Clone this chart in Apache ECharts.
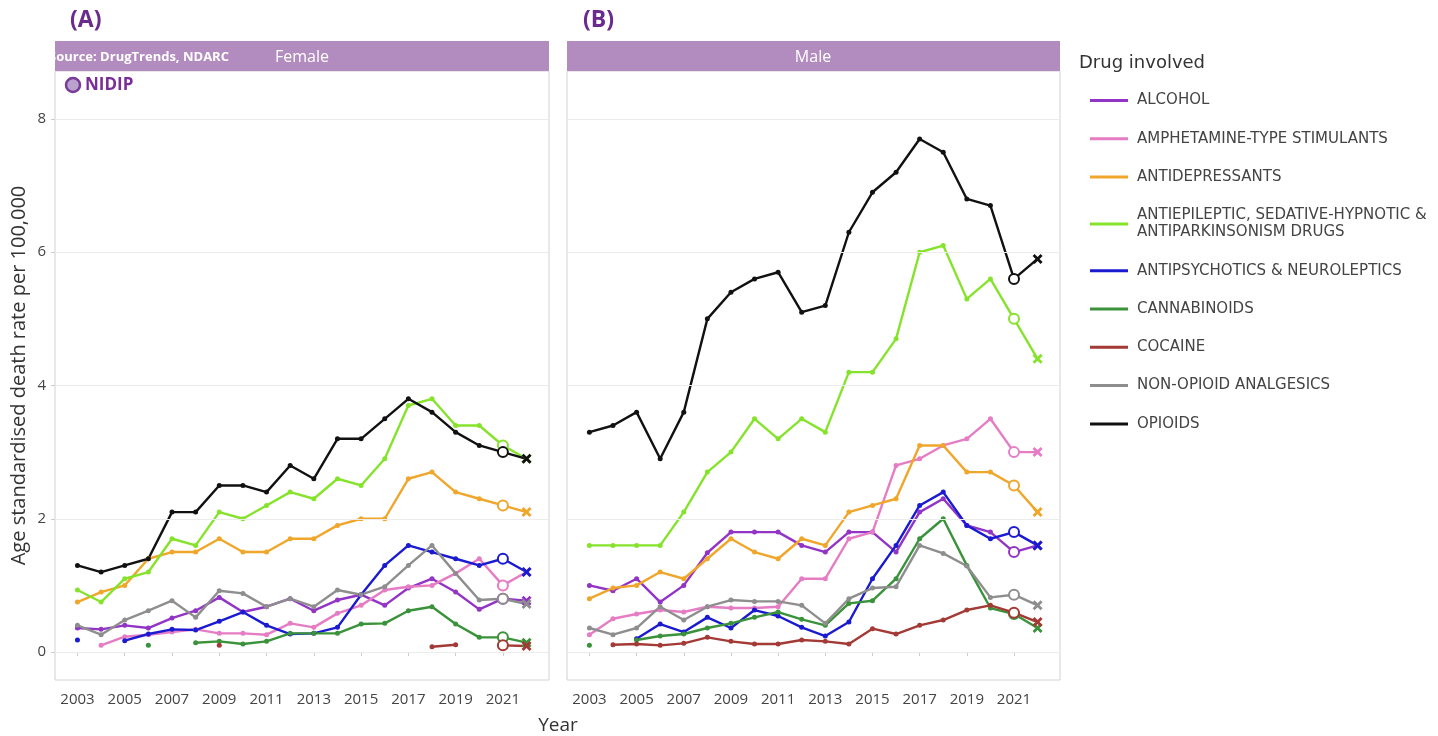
<!DOCTYPE html>
<html>
<head>
<meta charset="utf-8">
<title>Drug-induced deaths by drug involved</title>
<script src="https://cdn.jsdelivr.net/npm/echarts@6/dist/echarts.min.js"></script>
<style>
  html, body { margin: 0; padding: 0; background: #fff; }
  #chart { width: 1438px; height: 736px; }
</style>
</head>
<body>
<div id="chart"></div>
<script>
// years on the x axis
const years = [2003, 2004, 2005, 2006, 2007, 2008, 2009, 2010, 2011, 2012,
               2013, 2014, 2015, 2016, 2017, 2018, 2019, 2020, 2021, 2022];
const yearTicks = [2003, 2005, 2007, 2009, 2011, 2013, 2015, 2017, 2019, 2021];
const rateTicks = [0, 2, 4, 6, 8];

const drugNames = [
  'ALCOHOL',
  'AMPHETAMINE-TYPE STIMULANTS',
  'ANTIDEPRESSANTS',
  'ANTIEPILEPTIC, SEDATIVE-HYPNOTIC & ANTIPARKINSONISM DRUGS',
  'ANTIPSYCHOTICS & NEUROLEPTICS',
  'CANNABINOIDS',
  'COCAINE',
  'NON-OPIOID ANALGESICS',
  'OPIOIDS'
];
const drugColors = ['#9234c6', '#e57cc4', '#efa62a', '#86e32c', '#1a1ad0',
                    '#3a923a', '#a33a35', '#8e8e8e', '#111111'];

// Female (A)
const alcoholF  = [0.36, 0.34, 0.40, 0.36, 0.51, 0.62, 0.82, 0.60, 0.68, 0.80, 0.62, 0.78, 0.86, 0.70, 0.96, 1.10, 0.90, 0.64, 0.80, 0.77];
const amphF     = [null, 0.10, 0.23, 0.26, 0.30, 0.34, 0.28, 0.28, 0.26, 0.43, 0.37, 0.58, 0.70, 0.93, 0.98, 1.00, 1.18, 1.40, 1.00, 1.20];
const antidepF  = [0.75, 0.90, 1.00, 1.40, 1.50, 1.50, 1.70, 1.50, 1.50, 1.70, 1.70, 1.90, 2.00, 2.00, 2.60, 2.70, 2.40, 2.30, 2.20, 2.10];
const antiepF   = [0.93, 0.75, 1.10, 1.20, 1.70, 1.60, 2.10, 2.00, 2.20, 2.40, 2.30, 2.60, 2.50, 2.90, 3.70, 3.80, 3.40, 3.40, 3.10, 2.90];
const antipsyF  = [0.18, null, 0.17, 0.27, 0.34, 0.33, 0.46, 0.60, 0.40, 0.27, 0.28, 0.37, 0.86, 1.30, 1.60, 1.50, 1.40, 1.30, 1.40, 1.20];
const cannabF   = [null, null, null, 0.10, null, 0.14, 0.16, 0.12, 0.16, 0.28, 0.28, 0.28, 0.42, 0.43, 0.62, 0.68, 0.42, 0.22, 0.22, 0.14];
const cocaineF  = [null, null, null, null, null, null, 0.10, null, null, null, null, null, null, null, null, 0.08, 0.11, null, 0.10, 0.09];
const nonopF    = [0.40, 0.26, 0.48, 0.62, 0.77, 0.52, 0.92, 0.88, 0.68, 0.80, 0.68, 0.93, 0.86, 0.98, 1.30, 1.60, 1.18, 0.78, 0.80, 0.72];
const opioidsF  = [1.30, 1.20, 1.30, 1.40, 2.10, 2.10, 2.50, 2.50, 2.40, 2.80, 2.60, 3.20, 3.20, 3.50, 3.80, 3.60, 3.30, 3.10, 3.00, 2.90];

// Male (B)
const alcoholM  = [1.00, 0.92, 1.10, 0.75, 1.00, 1.49, 1.80, 1.80, 1.80, 1.60, 1.50, 1.80, 1.80, 1.50, 2.10, 2.30, 1.90, 1.80, 1.50, 1.60];
const amphM     = [0.26, 0.50, 0.57, 0.63, 0.60, 0.68, 0.66, 0.66, 0.68, 1.10, 1.10, 1.70, 1.80, 2.80, 2.90, 3.10, 3.20, 3.50, 3.00, 3.00];
const antidepM  = [0.80, 0.96, 1.00, 1.20, 1.10, 1.40, 1.70, 1.50, 1.40, 1.70, 1.60, 2.10, 2.20, 2.30, 3.10, 3.10, 2.70, 2.70, 2.50, 2.10];
const antiepM   = [1.60, 1.60, 1.60, 1.60, 2.10, 2.70, 3.00, 3.50, 3.20, 3.50, 3.30, 4.20, 4.20, 4.70, 6.00, 6.10, 5.30, 5.60, 5.00, 4.40];
const antipsyM  = [null, null, 0.20, 0.42, 0.30, 0.52, 0.36, 0.63, 0.54, 0.37, 0.24, 0.45, 1.10, 1.60, 2.20, 2.40, 1.90, 1.70, 1.80, 1.60];
const cannabM   = [0.10, null, 0.18, 0.24, 0.27, 0.36, 0.43, 0.52, 0.60, 0.49, 0.40, 0.73, 0.77, 1.10, 1.70, 2.00, 1.30, 0.66, 0.57, 0.36];
const cocaineM  = [null, 0.11, 0.12, 0.10, 0.13, 0.22, 0.16, 0.12, 0.12, 0.18, 0.16, 0.12, 0.35, 0.27, 0.40, 0.48, 0.63, 0.70, 0.59, 0.45];
const nonopM    = [0.36, 0.26, 0.36, 0.68, 0.48, 0.68, 0.78, 0.76, 0.76, 0.70, 0.43, 0.80, 0.96, 0.98, 1.60, 1.48, 1.29, 0.82, 0.86, 0.70];
const opioidsM  = [3.30, 3.40, 3.60, 2.90, 3.60, 5.00, 5.40, 5.60, 5.70, 5.10, 5.20, 6.30, 6.90, 7.20, 7.70, 7.50, 6.80, 6.70, 5.60, 5.90];

const femaleData = [alcoholF, amphF, antidepF, antiepF, antipsyF, cannabF, cocaineF, nonopF, opioidsF];
const maleData   = [alcoholM, amphM, antidepM, antiepM, antipsyM, cannabM, cocaineM, nonopM, opioidsM];

const FONT = '"Open Sans", "DejaVu Sans", sans-serif';
const WIDE = '"DejaVu Sans", sans-serif';
const CROSS = 'path://M2,0 L5,3 L8,0 L10,2 L7,5 L10,8 L8,10 L5,7 L2,10 L0,8 L3,5 L0,2 Z';

// 2021 gets an open circle, 2022 a cross
function toPoints(vals) {
  return years.map((yr, i) => {
    const v = vals[i];
    if (v == null) return [yr, null];
    if (yr === 2021) return { value: [yr, v], symbol: 'emptyCircle', symbolSize: 10, itemStyle: { borderWidth: 2 } };
    if (yr === 2022) return { value: [yr, v], symbol: CROSS, symbolSize: 10 };
    return [yr, v];
  });
}

const chart = echarts.init(document.getElementById('chart'));

const series = [];
// horizontal grid lines on both panels
[0, 1].forEach(idx => {
  series.push({
    type: 'line',
    name: '_grid' + idx,
    xAxisIndex: idx,
    yAxisIndex: idx,
    data: [],
    silent: true,
    markLine: {
      silent: true,
      symbol: 'none',
      label: { show: false },
      lineStyle: { color: '#ececec', width: 1, type: 'solid' },
      data: rateTicks.map(t => ({ yAxis: t }))
    }
  });
});

[femaleData, maleData].forEach((panel, idx) => {
  panel.forEach((vals, k) => {
    series.push({
      type: 'line',
      name: drugNames[k],
      xAxisIndex: idx,
      yAxisIndex: idx,
      data: toPoints(vals),
      connectNulls: false,
      symbol: 'circle',
      symbolSize: 5,
      showSymbol: true,
      color: drugColors[k],
      lineStyle: { width: 2.4 },
      emphasis: { disabled: true }
    });
  });
});

function xAxisOf(idx) {
  return {
    type: 'value',
    gridIndex: idx,
    min: 2002.05,
    max: 2022.95,
    splitLine: { show: false },
    axisLine: { show: false },
    axisTick: { show: true, customValues: yearTicks, length: 4, lineStyle: { color: '#cccccc' } },
    axisLabel: {
      customValues: yearTicks,
      formatter: v => String(v),
      margin: 12,
      color: '#444',
      fontSize: 15,
      fontFamily: FONT
    }
  };
}

function yAxisOf(idx) {
  return {
    type: 'value',
    gridIndex: idx,
    min: -0.42,
    max: 8.72,
    splitLine: { show: false },
    axisLine: { show: false },
    axisTick: { show: idx === 0, customValues: rateTicks, length: 4, lineStyle: { color: '#cccccc' } },
    axisLabel: {
      show: idx === 0,
      customValues: rateTicks,
      margin: 9,
      color: '#444',
      fontSize: 15,
      fontFamily: FONT
    },
    name: idx === 0 ? 'Age standardised death rate per 100,000' : '',
    nameLocation: 'middle',
    nameGap: 26,
    nameTextStyle: { fontSize: 20, color: '#333', fontFamily: FONT }
  };
}

const option = {
  animation: false,
  backgroundColor: '#fff',
  grid: [
    { left: 55, right: 889, top: 71, bottom: 56, show: true, borderColor: '#d2d2d2', borderWidth: 1, backgroundColor: '#fff' },
    { left: 567, right: 378, top: 71, bottom: 56, show: true, borderColor: '#d2d2d2', borderWidth: 1, backgroundColor: '#fff' }
  ],
  xAxis: [xAxisOf(0), xAxisOf(1)],
  yAxis: [yAxisOf(0), yAxisOf(1)],
  legend: {
    data: drugNames,
    orient: 'vertical',
    left: 1085,
    top: 87,
    itemGap: 21.3,
    itemWidth: 38,
    itemHeight: 3,
    icon: 'rect',
    selectedMode: true,
    formatter: name => name.startsWith('ANTIEPILEPTIC')
      ? 'ANTIEPILEPTIC, SEDATIVE-HYPNOTIC &\nANTIPARKINSONISM DRUGS'
      : name,
    textStyle: { fontSize: 15, color: '#444', lineHeight: 17, fontFamily: WIDE, padding: [0, 0, 0, 4] }
  },
  graphic: [
    { type: 'text', left: 70, top: 9, style: { text: '(A)', fontSize: 23, fontWeight: 'bold', fill: '#6a2a8e', fontFamily: FONT } },
    { type: 'text', left: 583, top: 9, style: { text: '(B)', fontSize: 23, fontWeight: 'bold', fill: '#6a2a8e', fontFamily: FONT } },
    { type: 'rect', shape: { x: 55, y: 41, width: 494, height: 30 }, style: { fill: '#b38cbf' } },
    { type: 'rect', shape: { x: 567, y: 41, width: 493, height: 30 }, style: { fill: '#b38cbf' } },
    { type: 'text', x: 302, y: 57, style: { text: 'Female', fontSize: 16, fill: '#fff', align: 'center', verticalAlign: 'middle', fontFamily: FONT } },
    { type: 'text', x: 813, y: 57, style: { text: 'Male', fontSize: 16, fill: '#fff', align: 'center', verticalAlign: 'middle', fontFamily: FONT } },
    { type: 'text', x: 49, y: 57, style: { text: 'Source: DrugTrends, NDARC', fontSize: 13, fontWeight: 'bold', fill: '#fff', verticalAlign: 'middle', fontFamily: FONT } },
    { type: 'circle', shape: { cx: 73, cy: 85, r: 7 }, style: { fill: '#b9a2cc', stroke: '#7a3a9a', lineWidth: 2.5 } },
    { type: 'text', x: 85, y: 85, style: { text: 'NIDIP', fontSize: 17, fontWeight: 'bold', fill: '#7a2d97', verticalAlign: 'middle', fontFamily: FONT } },
    { type: 'text', x: 558, y: 726, style: { text: 'Year', fontSize: 19, fill: '#333', align: 'center', verticalAlign: 'middle', fontFamily: FONT } },
    { type: 'text', x: 1079, y: 63, style: { text: 'Drug involved', fontSize: 18, fill: '#333', verticalAlign: 'middle', fontFamily: WIDE } }
  ],
  series: series
};

chart.setOption(option);
</script>
</body>
</html>
